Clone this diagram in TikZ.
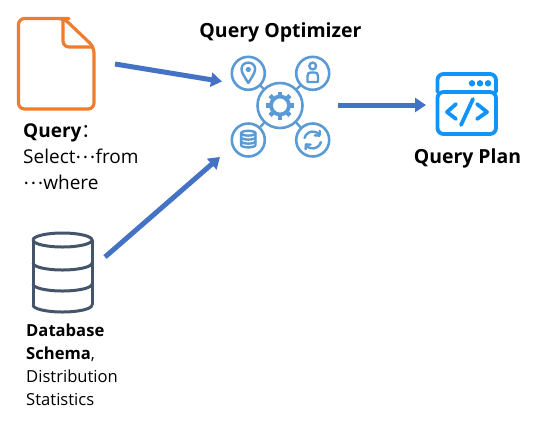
\documentclass[tikz,border=0pt]{standalone}
\usepackage{fontspec}
\setmainfont{Open Sans}
\newfontfamily\cjkf{Noto Sans CJK SC}
\usetikzlibrary{arrows.meta}
\definecolor{arrowblue}{HTML}{4472C4}
\definecolor{docorange}{HTML}{ED7D31}
\definecolor{dbslate}{HTML}{44546A}
\definecolor{optblue}{HTML}{5B9BD5}
\definecolor{planblue}{HTML}{1094FA}
\newcommand{\middots}{\raisebox{0.28em}{\cjkf ⋯}}
\tikzset{
  flow/.style={draw=arrowblue,line width=5pt,-{Triangle[length=11pt,width=14pt]}},
  optcircle/.style={circle,draw=optblue,line width=2.6pt,inner sep=0pt,fill=white},
  optline/.style={draw=optblue,line width=2.4pt,line cap=round,line join=round},
  planline/.style={draw=planblue,line width=3.8pt,line cap=round,line join=round},
  docline/.style={draw=docorange,line width=3.2pt,line join=round,rounded corners=6pt},
  dbline/.style={draw=dbslate,line width=3pt},
  label/.style={inner sep=0pt,anchor=north west,align=left,text=black},
}
\begin{document}
\begin{tikzpicture}[x=1pt,y=-1pt]
\useasboundingbox (0,0) rectangle (534,421);
% document icon
\draw[docline]
  (63,18.5) -- (18.5,18.5) -- (18.5,109) -- (94,109) -- (94,47) -- (64,18.5) -- cycle;
\draw[docline] (63,18.5) -- (63,47) -- (94,47);
\coordinate (qout) at (115,64);
\coordinate (qin) at (222,81.5);
% database icon
\draw[dbline] (33,240) arc[start angle=180,end angle=540,x radius=29.5,y radius=7];
\draw[dbline] (33,240) -- (33,305);
\draw[dbline] (92,240) -- (92,305);
\draw[dbline] (33,305) arc[start angle=180,end angle=0,x radius=29.5,y radius=7];
\draw[dbline] (33,263) arc[start angle=180,end angle=0,x radius=29.5,y radius=7];
\draw[dbline] (33,284) arc[start angle=180,end angle=0,x radius=29.5,y radius=7];
\coordinate (dbout) at (105,257);
\coordinate (dbin) at (220,157);
% optimizer icon
\node[optcircle,minimum size=45pt] (hub) at (280,105.5) {};
\node[optcircle,minimum size=33pt] (pin) at (248.3,73.3) {};
\node[optcircle,minimum size=33pt] (person) at (312.7,73.3) {};
\node[optcircle,minimum size=33pt] (store) at (248.3,140) {};
\node[optcircle,minimum size=33pt] (sync) at (312.7,140) {};
\draw[optline] (hub) -- (pin);
\draw[optline] (hub) -- (person);
\draw[optline] (hub) -- (store);
\draw[optline] (hub) -- (sync);
% gear
\foreach \a in {0,45,...,315}
  \draw[optblue,line width=4.4pt] (280,105.5) ++(\a:8) -- ++(\a:6);
\draw[optblue,line width=3.8pt,fill=white] (280,105.5) circle[radius=9];
% pin glyph
\draw[optline] (248.3,83) .. controls (244,76) and (241.5,72.5) .. (241.5,69)
  .. controls (241.5,60.5) and (255.1,60.5) .. (255.1,69)
  .. controls (255.1,72.5) and (252.6,76) .. (248.3,83) -- cycle;
\fill[optblue] (248.3,69.5) circle[radius=2.6];
% person glyph
\draw[optline] (312.7,66) circle[radius=3.4];
\draw[optline] (307.5,82) -- (307.5,76) .. controls (307.5,73) and (309,72.5) .. (311,72.5)
  -- (314.5,72.5) .. controls (316.5,72.5) and (318,73) .. (318,76) -- (318,82) -- cycle;
% stacked db glyph
\draw[optline] (248.3,133.2) ellipse[x radius=7.2,y radius=2.4];
\draw[optline] (241.1,133.2) -- (241.1,145) arc[start angle=180,end angle=0,x radius=7.2,y radius=2.4] -- (255.5,133.2);
\draw[optline] (241.1,137.2) arc[start angle=180,end angle=0,x radius=7.2,y radius=2.4];
\draw[optline] (241.1,141.2) arc[start angle=180,end angle=0,x radius=7.2,y radius=2.4];
% sync glyph
\draw[optline] (304.5,138) arc[start angle=194,end angle=320,radius=8.5];
\draw[optline] (320.9,142) arc[start angle=14,end angle=140,radius=8.5];
\draw[optline] (319.8,130.8) -- (319.5,135.6) -- (314.8,135.4);
\draw[optline] (305.6,149.2) -- (305.9,144.4) -- (310.6,144.6);
% plan icon
\draw[planline,rounded corners=6pt] (437.5,92) -- (437.5,74) -- (496,74) -- (496,92);
\draw[planline,rounded corners=6pt] (437.5,92) rectangle (496,134);
\fill[planblue] (472,83.3) circle[radius=3.2] (480,83.3) circle[radius=3.2] (488,83.3) circle[radius=3.2];
\draw[planline] (456,104) -- (447,112) -- (456,119);
\draw[planline] (477,104) -- (487,112) -- (477,119);
\draw[planline] (473,99) -- (461,125);
% flow arrows
\coordinate (hubin) at (338,105);
\coordinate (planin) at (426,105);
\draw[flow] (qout) -- (qin);
\draw[flow] (dbout) -- (dbin);
\draw[flow] (hubin) -- (planin);
% labels
\node[inner sep=0pt,anchor=base,font=\fontsize{19.5}{22}\selectfont\bfseries] (tOpt) at (280.5,37) {Query Optimizer};
\node[inner sep=0pt,anchor=base,font=\fontsize{19.4}{22}\selectfont\bfseries] (tPlan) at (467.5,163) {Query Plan};
\node[label,font=\fontsize{19}{26.3}\selectfont] (tQuery) at (23,123.3)
  {\textbf{Query}{\cjkf ：}\\Select\middots from\\\middots where};
\node[label,font=\fontsize{16.6}{23}\selectfont] (tDb) at (26,323.5)
  {\textbf{Database}\\\textbf{Schema},\\Distribution\\Statistics};
\end{tikzpicture}
\end{document}
